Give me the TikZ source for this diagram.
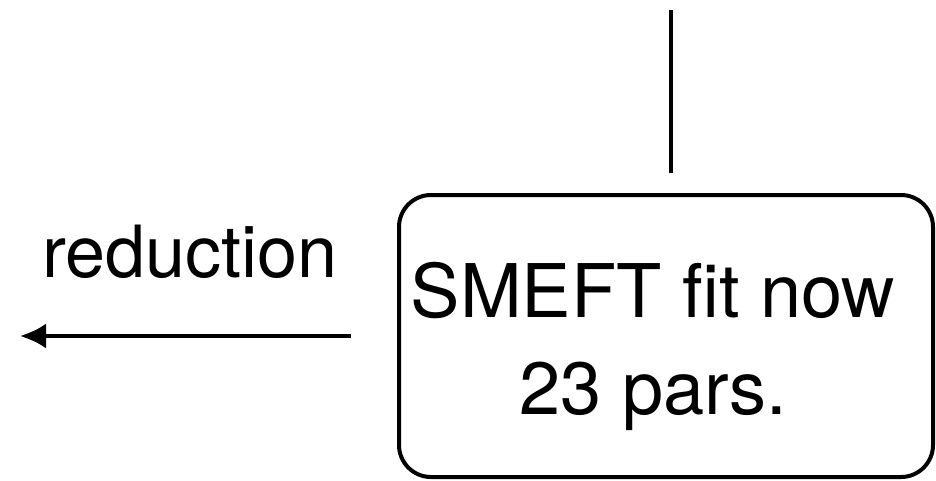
\documentclass[tikz,border=0pt]{standalone}
\usepackage{fontspec}
\setmainfont{TeX Gyre Heros}
\usetikzlibrary{positioning,arrows.meta}

\begin{document}
\begin{tikzpicture}[x=1pt,y=-1pt,
    fitbox/.style={draw, line width=4pt, rounded corners=32pt,
        minimum width=534pt, minimum height=282pt},
    boxtext/.style={align=center, font=\fontsize{74}{97}\selectfont},
    redtext/.style={font=\fontsize{72}{86}\selectfont}]

    % Frame of the picture
    \useasboundingbox (0,0) rectangle (936,480);

    % The fit box and its text
    \node[fitbox] (smeft) at (666,336) {};
    \node[boxtext] (smefttext) at (653,346) {SMEFT fit now\\23 pars.};

    % Line coming in from above
    \coordinate (top) at (671,10);
    \draw[line width=4pt, shorten >=20pt] (top) -- (smeft.north -| top);

    % Reduction arrow
    \coordinate (left) at (20,336);
    \draw[line width=4pt, -{Latex[length=26pt,width=25pt]}, shorten <=46pt]
        (smeft.west) -- (left);
    \node[redtext, anchor=base] (red) at (190,277) {reduction};

\end{tikzpicture}
\end{document}
